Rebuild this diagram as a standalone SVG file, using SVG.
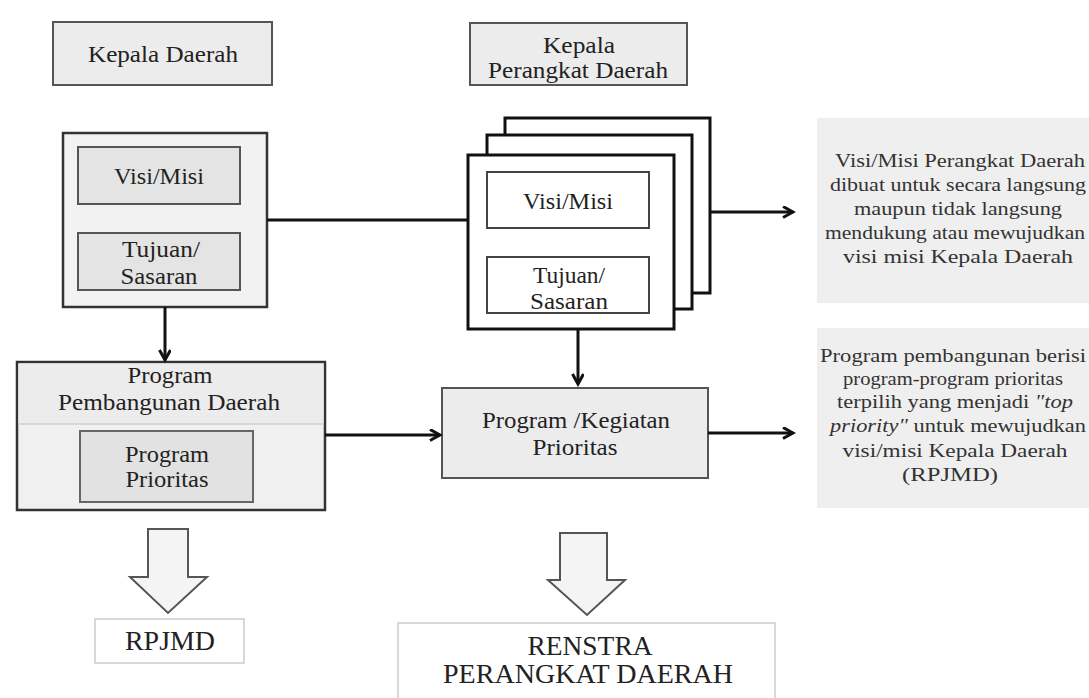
<svg xmlns="http://www.w3.org/2000/svg" width="1089" height="698" viewBox="0 0 1089 698">
<defs>
<style>
text{font-family:"Liberation Serif","Times New Roman",serif;fill:#222;text-anchor:middle}
.lbl{font-size:24px}
.big{font-size:27px}
.note{font-size:18px;fill:#333}
.gbox{fill:#ececec;stroke:#555;stroke-width:2}
.inner{fill:#e4e4e4;stroke:#555;stroke-width:2}
.wbox{fill:#fff;stroke:#111;stroke-width:3}
.winner{fill:#fff;stroke:#444;stroke-width:2}
.nbox{fill:#efefef;stroke:none}
.obox{fill:#fff;stroke:#ccc;stroke-width:1.5}
.blk{fill:#f4f4f4;stroke:#555;stroke-width:2;stroke-linejoin:miter}
.conn{fill:none;stroke:#111;stroke-width:3}
</style>
<marker id="ah" markerUnits="userSpaceOnUse" markerWidth="14" markerHeight="14" refX="11" refY="6" orient="auto">
<path d="M1,0.5 L11,6 L1,11.5" fill="none" stroke="#111" stroke-width="3"/>
</marker>
</defs>
<rect width="1089" height="698" fill="#fff"/>

<g id="kepala-daerah">
<rect class="gbox" x="53" y="22" width="219" height="63"/>
<text class="lbl" x="163" y="62" textLength="150" lengthAdjust="spacingAndGlyphs">Kepala Daerah</text>
</g>

<g id="kepala-perangkat-daerah">
<rect class="gbox" x="470" y="23" width="217" height="62"/>
<text class="lbl" x="579" y="53" textLength="72" lengthAdjust="spacingAndGlyphs">Kepala</text>
<text class="lbl" x="578" y="78" textLength="180" lengthAdjust="spacingAndGlyphs">Perangkat Daerah</text>
</g>

<g id="visi-misi-kd">
<rect x="63" y="133" width="204" height="174" fill="#f2f2f2" stroke="#333" stroke-width="2.5"/>
<rect class="inner" x="78" y="147" width="162" height="57"/>
<text class="lbl" x="159" y="184" textLength="90" lengthAdjust="spacingAndGlyphs">Visi/Misi</text>
<rect class="inner" x="78" y="233" width="162" height="57"/>
<text class="lbl" x="161" y="257" textLength="78" lengthAdjust="spacingAndGlyphs">Tujuan/</text>
<text class="lbl" x="159" y="284" textLength="77" lengthAdjust="spacingAndGlyphs">Sasaran</text>
</g>

<g id="visi-misi-pd">
<rect class="wbox" x="505" y="118" width="205" height="175"/>
<rect class="wbox" x="487" y="135" width="205" height="174"/>
<rect class="wbox" x="468" y="155" width="206" height="174"/>
<rect class="winner" x="487" y="172" width="162" height="56"/>
<text class="lbl" x="568" y="209" textLength="90" lengthAdjust="spacingAndGlyphs">Visi/Misi</text>
<rect class="winner" x="487" y="257" width="162" height="56"/>
<text class="lbl" x="569" y="283" textLength="72" lengthAdjust="spacingAndGlyphs">Tujuan/</text>
<text class="lbl" x="569" y="309" textLength="78" lengthAdjust="spacingAndGlyphs">Sasaran</text>
</g>

<g id="program-pembangunan-daerah">
<rect x="17" y="362" width="308" height="148" fill="#f0f0f0" stroke="#333" stroke-width="2.5"/>
<rect x="18.5" y="363.5" width="305" height="60" fill="#ececec"/>
<line x1="18" y1="424" x2="324" y2="424" stroke="#cfcfcf" stroke-width="1.5"/>
<text class="lbl" x="170" y="383" textLength="85" lengthAdjust="spacingAndGlyphs">Program</text>
<text class="lbl" x="169" y="410" textLength="222" lengthAdjust="spacingAndGlyphs">Pembangunan Daerah</text>
<rect x="80" y="431" width="173" height="71" fill="#e2e2e2" stroke="#666" stroke-width="2"/>
<text class="lbl" x="167" y="462" textLength="84" lengthAdjust="spacingAndGlyphs">Program</text>
<text class="lbl" x="167" y="487" textLength="83" lengthAdjust="spacingAndGlyphs">Prioritas</text>
</g>

<g id="program-kegiatan-prioritas">
<rect class="gbox" x="442" y="388" width="266" height="90" stroke-width="2.5"/>
<text class="lbl" x="576" y="428" textLength="188" lengthAdjust="spacingAndGlyphs">Program /Kegiatan</text>
<text class="lbl" x="575" y="455" textLength="85" lengthAdjust="spacingAndGlyphs">Prioritas</text>
</g>

<g id="note-visi-misi">
<rect class="nbox" x="817" y="118" width="272" height="185"/>
<text class="note" x="960" y="167" textLength="250" lengthAdjust="spacingAndGlyphs">Visi/Misi Perangkat Daerah</text>
<text class="note" x="958" y="191" textLength="256" lengthAdjust="spacingAndGlyphs">dibuat untuk secara langsung</text>
<text class="note" x="958" y="215" textLength="208" lengthAdjust="spacingAndGlyphs">maupun tidak langsung</text>
<text class="note" x="955" y="239" textLength="260" lengthAdjust="spacingAndGlyphs">mendukung atau mewujudkan</text>
<text class="note" x="958" y="263" textLength="230" lengthAdjust="spacingAndGlyphs">visi misi Kepala Daerah</text>
</g>

<g id="note-program">
<rect class="nbox" x="817" y="328" width="272" height="180"/>
<text class="note" x="953" y="362" textLength="266" lengthAdjust="spacingAndGlyphs">Program pembangunan berisi</text>
<text class="note" x="953" y="385" textLength="220" lengthAdjust="spacingAndGlyphs">program-program prioritas</text>
<text class="note" x="955" y="408" textLength="236" lengthAdjust="spacingAndGlyphs">terpilih yang menjadi <tspan font-style="italic">"top</tspan></text>
<text class="note" x="958" y="432" textLength="256" lengthAdjust="spacingAndGlyphs"><tspan font-style="italic">priority"</tspan> untuk mewujudkan</text>
<text class="note" x="955" y="457" textLength="225" lengthAdjust="spacingAndGlyphs">visi/misi Kepala Daerah</text>
<text class="note" x="950" y="481" textLength="96" lengthAdjust="spacingAndGlyphs">(RPJMD)</text>
</g>

<g id="rpjmd">
<path class="blk" d="M148,529 H188 V577 H207 L168,613 L130,577 H148 Z"/>
<rect class="obox" x="95" y="619" width="149" height="44"/>
<text class="big" x="170" y="650" textLength="90" lengthAdjust="spacingAndGlyphs">RPJMD</text>
</g>

<g id="renstra">
<path class="blk" d="M560,533 H607 V580 H625 L587,615 L548,580 H560 Z"/>
<rect class="obox" x="398" y="623" width="377" height="80"/>
<text class="big" x="590" y="655" textLength="125" lengthAdjust="spacingAndGlyphs">RENSTRA</text>
<text class="big" x="588" y="683" textLength="290" lengthAdjust="spacingAndGlyphs">PERANGKAT DAERAH</text>
</g>

<g id="connectors">
<line class="conn" x1="267" y1="220" x2="468" y2="220"/>
<line class="conn" x1="710" y1="212" x2="793" y2="212" marker-end="url(#ah)"/>
<line class="conn" x1="165" y1="307" x2="165" y2="360" marker-end="url(#ah)"/>
<line class="conn" x1="578" y1="329" x2="578" y2="384" marker-end="url(#ah)"/>
<line class="conn" x1="325" y1="435" x2="440" y2="435" marker-end="url(#ah)"/>
<line class="conn" x1="708" y1="433" x2="793" y2="433" marker-end="url(#ah)"/>
</g>
</svg>
